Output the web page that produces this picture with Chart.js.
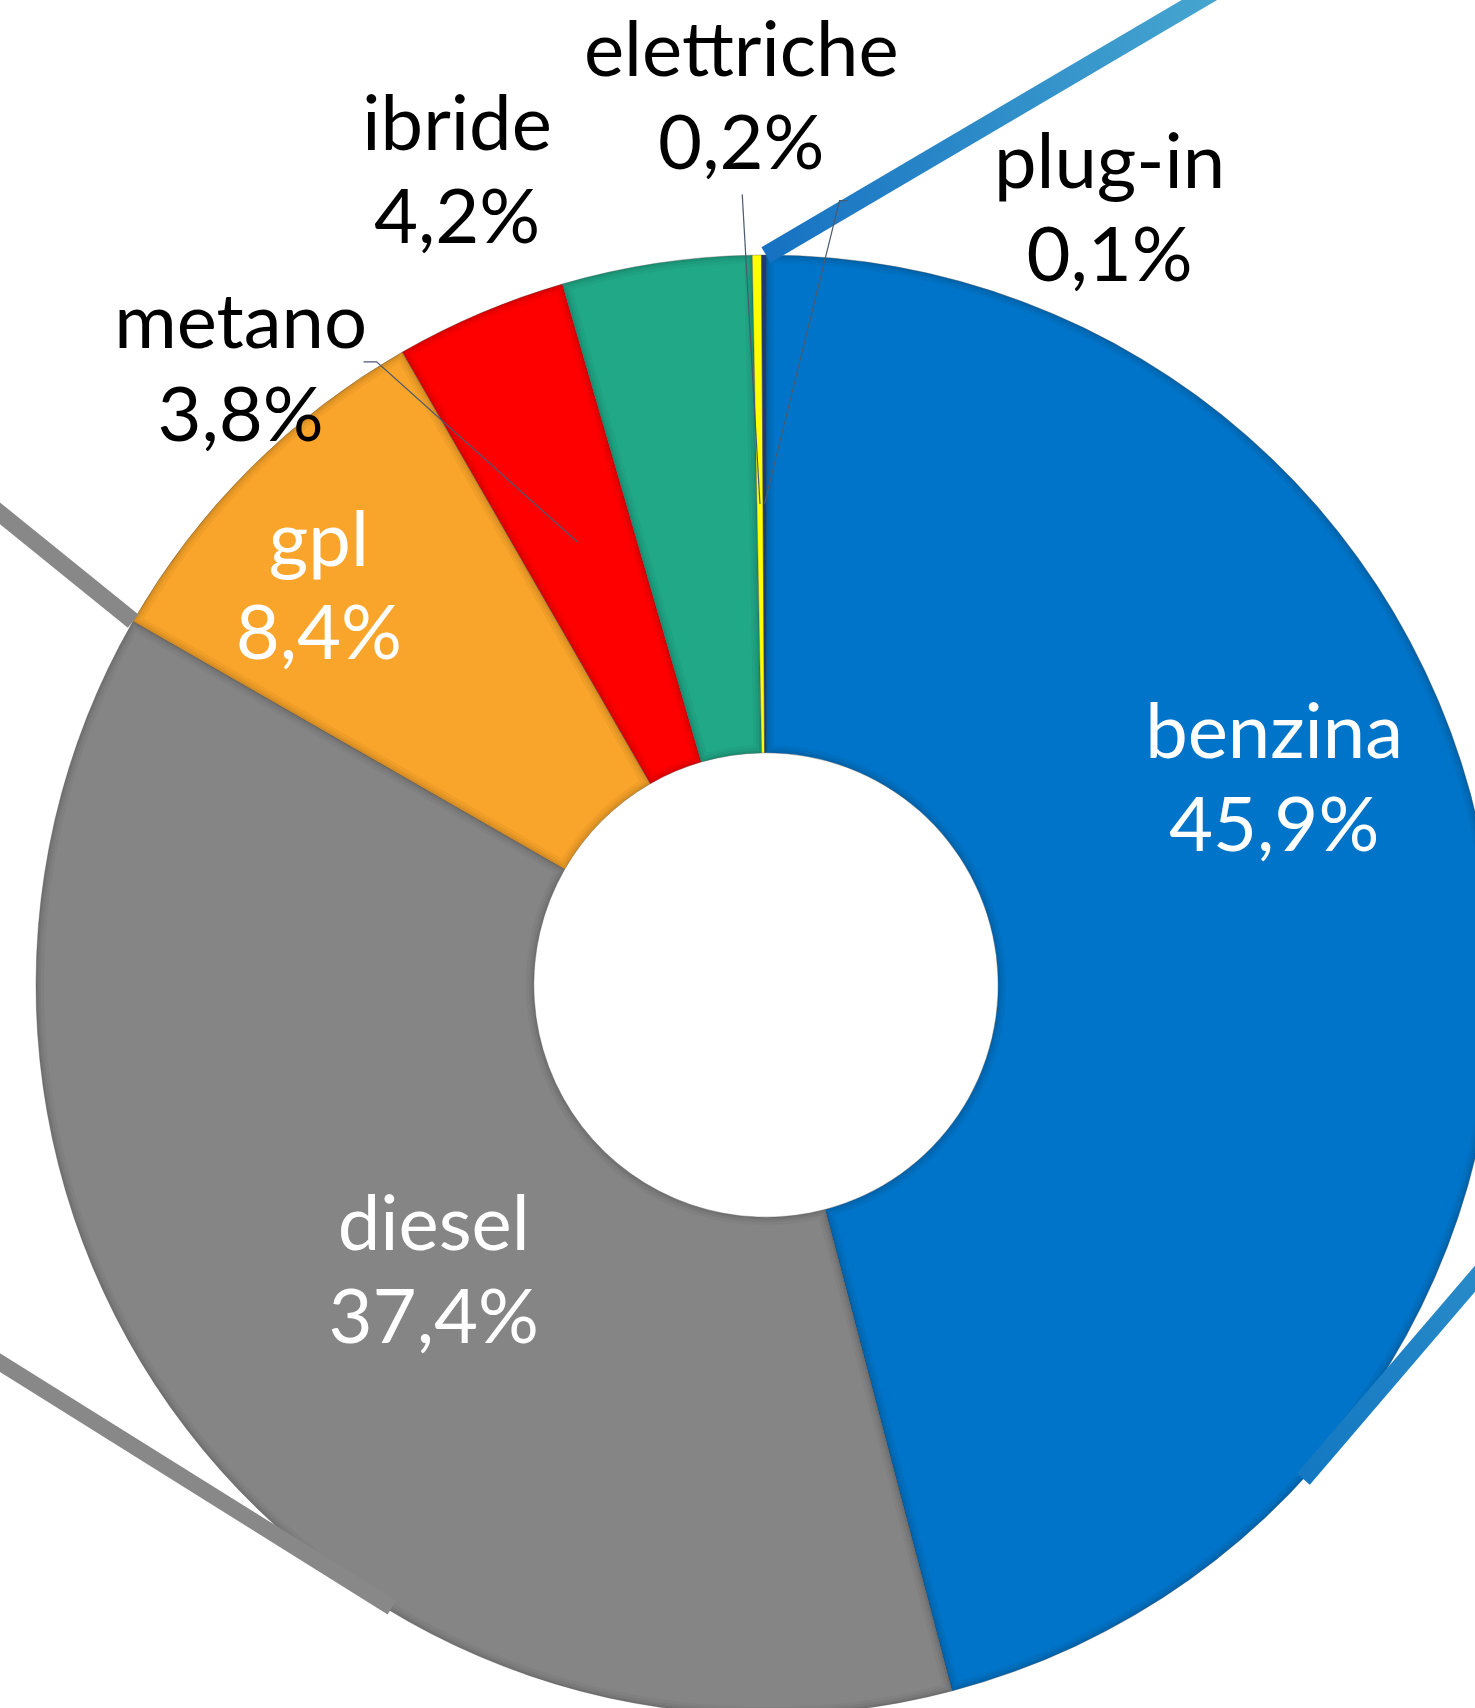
<!DOCTYPE html>
<html>
<head>
<meta charset="utf-8">
<script src="https://cdn.jsdelivr.net/npm/chart.js@4.4.1/dist/chart.umd.min.js"></script>
<style>
  html, body { margin: 0; padding: 0; background: #ffffff; overflow: hidden; }
  #wrap { position: absolute; left: 0; top: 0; width: 1532px; height: 1768px; }
</style>
</head>
<body>
<div id="wrap"><canvas id="c" width="1532" height="1768"></canvas></div>
<script>
// ---- data ----
const categories = ['benzina', 'diesel', 'gpl', 'metano', 'ibride', 'elettriche', 'plug-in'];
const shares = [45.9, 37.4, 8.4, 3.8, 4.2, 0.2, 0.1];
const sliceColors = ['#0074C8', '#858585', '#F9A42A', '#FF0000', '#21A887', '#FFFF00', '#1F3B6E'];

// ---- label styling / placement (polar, relative to the chart centre) ----
const labelColors = ['#ffffff', '#ffffff', '#ffffff', '#000000', '#000000', '#000000', '#000000'];
const labelAngles = [68, 229.2, 311.6, 319.5, 339.2, 358.4, 23.9];   // degrees clockwise from 12 o'clock
const labelRadii  = [548, 439, 598, 809, 870, 887, 848];              // px from centre
const leaderFrom  = [null, null, null, {dx: 136, dy: -8, tick: -13}, null, {dx: 1, dy: 96, tick: 0}, {dx: -270, dy: -9, tick: 8}];

const fmt = v => v.toFixed(1).replace('.', ',') + '%';

// soft bevel shading along each slice edge
const bevelPlugin = {
  id: 'bevel',
  afterDatasetsDraw(chart) {
    const ctx = chart.ctx;
    const meta = chart.getDatasetMeta(0);
    meta.data.forEach(arc => {
      const {x, y, startAngle, endAngle, innerRadius, outerRadius} = arc.getProps(['x','y','startAngle','endAngle','innerRadius','outerRadius'], true);
      if (endAngle - startAngle < 0.02) return;
      ctx.save();
      ctx.beginPath();
      ctx.arc(x, y, outerRadius, startAngle, endAngle);
      ctx.arc(x, y, innerRadius, endAngle, startAngle, true);
      ctx.closePath();
      ctx.clip();
      ctx.lineJoin = 'round';
      [[16, 'rgba(0,0,0,0.035)'], [10, 'rgba(0,0,0,0.045)'], [5, 'rgba(0,0,0,0.06)']].forEach(([w, c]) => {
        ctx.lineWidth = w; ctx.strokeStyle = c; ctx.stroke();
      });
      ctx.restore();
    });
  }
};

const labelPlugin = {
  id: 'sliceLabels',
  afterDatasetsDraw(chart) {
    const ctx = chart.ctx;
    const meta = chart.getDatasetMeta(0);
    const arc0 = meta.data[0];
    const cx = arc0.x, cy = arc0.y, R = arc0.outerRadius;
    ctx.save();

    // decorative bevel strokes of the original graphic
    const deco = [
      {a: 0, r: 1.0, dirx: 430, diry: -253, len: 560, w: 18, c1: '#1672C2', c2: '#4AAAD0'},
      {a: 299.9, r: 1.0, dirx: -131, diry: -106, len: 220, w: 17, c1: '#888888', c2: '#888888'},
      {a: 132.6, r: 1.0, dirx: 173, diry: -202, len: 300, w: 17, c1: '#1478C2', c2: '#2A8CC8'},
      {a: 211, r: 0.995, dirx: -392, diry: -245, len: 520, w: 16, c1: '#888888', c2: '#888888'}
    ];
    deco.forEach(d => {
      const t = d.a * Math.PI / 180;
      const x0 = cx + R * d.r * Math.sin(t), y0 = cy - R * d.r * Math.cos(t);
      const n = Math.hypot(d.dirx, d.diry);
      const x1 = x0 + d.dirx / n * d.len, y1 = y0 + d.diry / n * d.len;
      const g = ctx.createLinearGradient(x0, y0, x1, y1);
      g.addColorStop(0, d.c1); g.addColorStop(1, d.c2);
      ctx.strokeStyle = g; ctx.lineWidth = d.w; ctx.lineCap = 'butt';
      ctx.beginPath(); ctx.moveTo(x0, y0); ctx.lineTo(x1, y1); ctx.stroke();
    });

    ctx.font = '400 76px Lato, "Open Sans", sans-serif';
    ctx.textAlign = 'center';
    ctx.textBaseline = 'middle';
    const lineGap = 93;
    meta.data.forEach((arc, i) => {
      const t = labelAngles[i] * Math.PI / 180;
      const lx = cx + labelRadii[i] * Math.sin(t);
      const ly = cy - labelRadii[i] * Math.cos(t);
      const lf = leaderFrom[i];
      if (lf) {
        const p = arc.getCenterPoint();
        const sx = lx + lf.dx, sy = ly + lf.dy;
        ctx.strokeStyle = '#4A5A70';
        ctx.lineWidth = 1.2;
        ctx.beginPath();
        if (lf.tick) { ctx.moveTo(sx + lf.tick, sy); ctx.lineTo(sx, sy); } else { ctx.moveTo(sx, sy); }
        ctx.lineTo(p.x, p.y);
        ctx.stroke();
      }
      ctx.fillStyle = labelColors[i];
      ctx.fillText(categories[i], lx, ly - lineGap / 2);
      ctx.fillText(fmt(shares[i]), lx, ly + lineGap / 2);
    });
    ctx.restore();
  }
};

new Chart(document.getElementById('c'), {
  type: 'doughnut',
  data: {
    labels: categories,
    datasets: [{
      data: shares,
      backgroundColor: sliceColors,
      borderColor: 'rgba(70,70,70,0.35)',
      borderWidth: 1
    }]
  },
  options: {
    responsive: false,
    animation: false,
    devicePixelRatio: 1,
    radius: 730,
    cutout: 232,
    rotation: 0,
    layout: { padding: { left: 36, top: 255, right: 36, bottom: 53 } },
    plugins: { legend: { display: false }, tooltip: { enabled: false } }
  },
  plugins: [bevelPlugin, labelPlugin]
});
</script>
</body>
</html>
